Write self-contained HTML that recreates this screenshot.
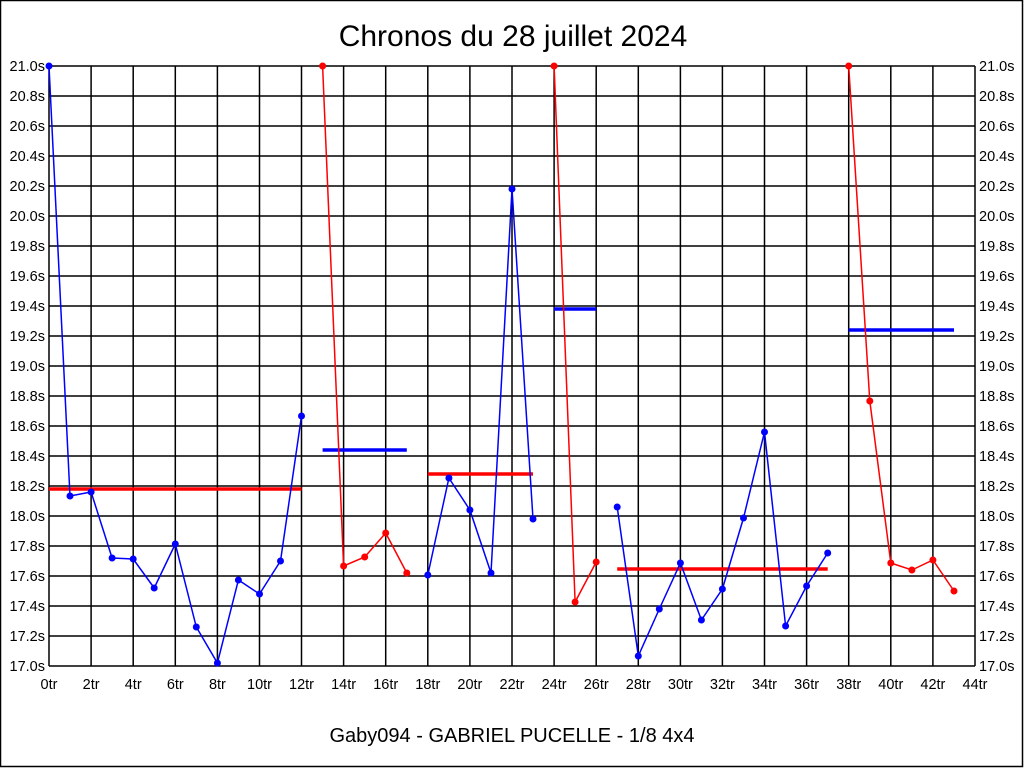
<!DOCTYPE html>
<html><head><meta charset="utf-8"><style>
html,body{margin:0;padding:0;background:#fff}
svg{display:block}
text{font-family:"Liberation Sans",sans-serif;fill:#000}
</style></head><body>
<svg width="1024" height="768" viewBox="0 0 1024 768" xmlns="http://www.w3.org/2000/svg">
<rect x="0.5" y="0.5" width="1022" height="766" fill="#fff" stroke="#000" stroke-width="1.5"/>
<text x="513" y="46" font-size="30" text-anchor="middle">Chronos du 28 juillet 2024</text>
<g stroke="#000" stroke-width="1.5">
<line x1="49" y1="66" x2="975" y2="66"/><line x1="49" y1="96" x2="975" y2="96"/><line x1="49" y1="126" x2="975" y2="126"/><line x1="49" y1="156" x2="975" y2="156"/><line x1="49" y1="186" x2="975" y2="186"/><line x1="49" y1="216" x2="975" y2="216"/><line x1="49" y1="246" x2="975" y2="246"/><line x1="49" y1="276" x2="975" y2="276"/><line x1="49" y1="306" x2="975" y2="306"/><line x1="49" y1="336" x2="975" y2="336"/><line x1="49" y1="366" x2="975" y2="366"/><line x1="49" y1="396" x2="975" y2="396"/><line x1="49" y1="426" x2="975" y2="426"/><line x1="49" y1="456" x2="975" y2="456"/><line x1="49" y1="486" x2="975" y2="486"/><line x1="49" y1="516" x2="975" y2="516"/><line x1="49" y1="546" x2="975" y2="546"/><line x1="49" y1="576" x2="975" y2="576"/><line x1="49" y1="606" x2="975" y2="606"/><line x1="49" y1="636" x2="975" y2="636"/><line x1="49" y1="666" x2="975" y2="666"/>
<line x1="49" y1="66" x2="49" y2="666"/><line x1="91.1" y1="66" x2="91.1" y2="666"/><line x1="133.2" y1="66" x2="133.2" y2="666"/><line x1="175.3" y1="66" x2="175.3" y2="666"/><line x1="217.4" y1="66" x2="217.4" y2="666"/><line x1="259.5" y1="66" x2="259.5" y2="666"/><line x1="301.5" y1="66" x2="301.5" y2="666"/><line x1="343.6" y1="66" x2="343.6" y2="666"/><line x1="385.7" y1="66" x2="385.7" y2="666"/><line x1="427.8" y1="66" x2="427.8" y2="666"/><line x1="469.9" y1="66" x2="469.9" y2="666"/><line x1="512" y1="66" x2="512" y2="666"/><line x1="554.1" y1="66" x2="554.1" y2="666"/><line x1="596.2" y1="66" x2="596.2" y2="666"/><line x1="638.3" y1="66" x2="638.3" y2="666"/><line x1="680.4" y1="66" x2="680.4" y2="666"/><line x1="722.4" y1="66" x2="722.4" y2="666"/><line x1="764.5" y1="66" x2="764.5" y2="666"/><line x1="806.6" y1="66" x2="806.6" y2="666"/><line x1="848.7" y1="66" x2="848.7" y2="666"/><line x1="890.8" y1="66" x2="890.8" y2="666"/><line x1="932.9" y1="66" x2="932.9" y2="666"/><line x1="975" y1="66" x2="975" y2="666"/>
</g>
<g font-size="14.5" text-anchor="end">
<text x="45" y="71">21.0s</text><text x="45" y="101">20.8s</text><text x="45" y="131">20.6s</text><text x="45" y="161">20.4s</text><text x="45" y="191">20.2s</text><text x="45" y="221">20.0s</text><text x="45" y="251">19.8s</text><text x="45" y="281">19.6s</text><text x="45" y="311">19.4s</text><text x="45" y="341">19.2s</text><text x="45" y="371">19.0s</text><text x="45" y="401">18.8s</text><text x="45" y="431">18.6s</text><text x="45" y="461">18.4s</text><text x="45" y="491">18.2s</text><text x="45" y="521">18.0s</text><text x="45" y="551">17.8s</text><text x="45" y="581">17.6s</text><text x="45" y="611">17.4s</text><text x="45" y="641">17.2s</text><text x="45" y="671">17.0s</text>
</g>
<g font-size="14.5" text-anchor="start">
<text x="979" y="71">21.0s</text><text x="979" y="101">20.8s</text><text x="979" y="131">20.6s</text><text x="979" y="161">20.4s</text><text x="979" y="191">20.2s</text><text x="979" y="221">20.0s</text><text x="979" y="251">19.8s</text><text x="979" y="281">19.6s</text><text x="979" y="311">19.4s</text><text x="979" y="341">19.2s</text><text x="979" y="371">19.0s</text><text x="979" y="401">18.8s</text><text x="979" y="431">18.6s</text><text x="979" y="461">18.4s</text><text x="979" y="491">18.2s</text><text x="979" y="521">18.0s</text><text x="979" y="551">17.8s</text><text x="979" y="581">17.6s</text><text x="979" y="611">17.4s</text><text x="979" y="641">17.2s</text><text x="979" y="671">17.0s</text>
</g>
<g font-size="14.5" text-anchor="middle">
<text x="49" y="689">0tr</text><text x="91.1" y="689">2tr</text><text x="133.2" y="689">4tr</text><text x="175.3" y="689">6tr</text><text x="217.4" y="689">8tr</text><text x="259.5" y="689">10tr</text><text x="301.5" y="689">12tr</text><text x="343.6" y="689">14tr</text><text x="385.7" y="689">16tr</text><text x="427.8" y="689">18tr</text><text x="469.9" y="689">20tr</text><text x="512" y="689">22tr</text><text x="554.1" y="689">24tr</text><text x="596.2" y="689">26tr</text><text x="638.3" y="689">28tr</text><text x="680.4" y="689">30tr</text><text x="722.4" y="689">32tr</text><text x="764.5" y="689">34tr</text><text x="806.6" y="689">36tr</text><text x="848.7" y="689">38tr</text><text x="890.8" y="689">40tr</text><text x="932.9" y="689">42tr</text><text x="975" y="689">44tr</text>
</g>
<text x="512" y="742" font-size="20" text-anchor="middle">Gaby094 - GABRIEL PUCELLE - 1/8 4x4</text>
<g stroke-width="3.5">
<line x1="49" y1="489" x2="301.5" y2="489" stroke="#f00"/>
<line x1="322.6" y1="450" x2="406.8" y2="450" stroke="#00f"/>
<line x1="427.8" y1="474" x2="533" y2="474" stroke="#f00"/>
<line x1="554.1" y1="309" x2="596.2" y2="309" stroke="#00f"/>
<line x1="617.2" y1="569" x2="827.7" y2="569" stroke="#f00"/>
<line x1="848.7" y1="330" x2="954" y2="330" stroke="#00f"/>
</g>
<g fill="none" stroke-width="1.5">
<polyline stroke="#00f" points="49,66 70,496 91.1,492 112.1,558 133.2,559 154.2,588 175.3,544 196.3,627 217.4,663 238.4,580 259.5,594 280.5,561 301.5,416"/>
<polyline stroke="#f00" points="322.6,66 343.6,566 364.7,557 385.7,533 406.8,573"/>
<polyline stroke="#00f" points="427.8,575 448.9,478 469.9,510 491,573 512,189 533,519"/>
<polyline stroke="#f00" points="554.1,66 575.1,602 596.2,562"/>
<polyline stroke="#00f" points="617.2,507 638.3,656 659.3,609 680.4,563 701.4,620 722.4,589 743.5,518 764.5,432 785.6,626 806.6,586 827.7,553"/>
<polyline stroke="#f00" points="848.7,66 869.8,401 890.8,563 911.9,570 932.9,560 954,591"/>
</g>
<g fill="#00f">
<circle cx="49" cy="66" r="3.5"/><circle cx="70" cy="496" r="3.5"/><circle cx="91.1" cy="492" r="3.5"/><circle cx="112.1" cy="558" r="3.5"/><circle cx="133.2" cy="559" r="3.5"/><circle cx="154.2" cy="588" r="3.5"/><circle cx="175.3" cy="544" r="3.5"/><circle cx="196.3" cy="627" r="3.5"/><circle cx="217.4" cy="663" r="3.5"/><circle cx="238.4" cy="580" r="3.5"/><circle cx="259.5" cy="594" r="3.5"/><circle cx="280.5" cy="561" r="3.5"/><circle cx="301.5" cy="416" r="3.5"/>
<circle cx="427.8" cy="575" r="3.5"/><circle cx="448.9" cy="478" r="3.5"/><circle cx="469.9" cy="510" r="3.5"/><circle cx="491" cy="573" r="3.5"/><circle cx="512" cy="189" r="3.5"/><circle cx="533" cy="519" r="3.5"/>
<circle cx="617.2" cy="507" r="3.5"/><circle cx="638.3" cy="656" r="3.5"/><circle cx="659.3" cy="609" r="3.5"/><circle cx="680.4" cy="563" r="3.5"/><circle cx="701.4" cy="620" r="3.5"/><circle cx="722.4" cy="589" r="3.5"/><circle cx="743.5" cy="518" r="3.5"/><circle cx="764.5" cy="432" r="3.5"/><circle cx="785.6" cy="626" r="3.5"/><circle cx="806.6" cy="586" r="3.5"/><circle cx="827.7" cy="553" r="3.5"/>
</g>
<g fill="#f00">
<circle cx="322.6" cy="66" r="3.5"/><circle cx="343.6" cy="566" r="3.5"/><circle cx="364.7" cy="557" r="3.5"/><circle cx="385.7" cy="533" r="3.5"/><circle cx="406.8" cy="573" r="3.5"/>
<circle cx="554.1" cy="66" r="3.5"/><circle cx="575.1" cy="602" r="3.5"/><circle cx="596.2" cy="562" r="3.5"/>
<circle cx="848.7" cy="66" r="3.5"/><circle cx="869.8" cy="401" r="3.5"/><circle cx="890.8" cy="563" r="3.5"/><circle cx="911.9" cy="570" r="3.5"/><circle cx="932.9" cy="560" r="3.5"/><circle cx="954" cy="591" r="3.5"/>
</g>
</svg>
</body></html>
